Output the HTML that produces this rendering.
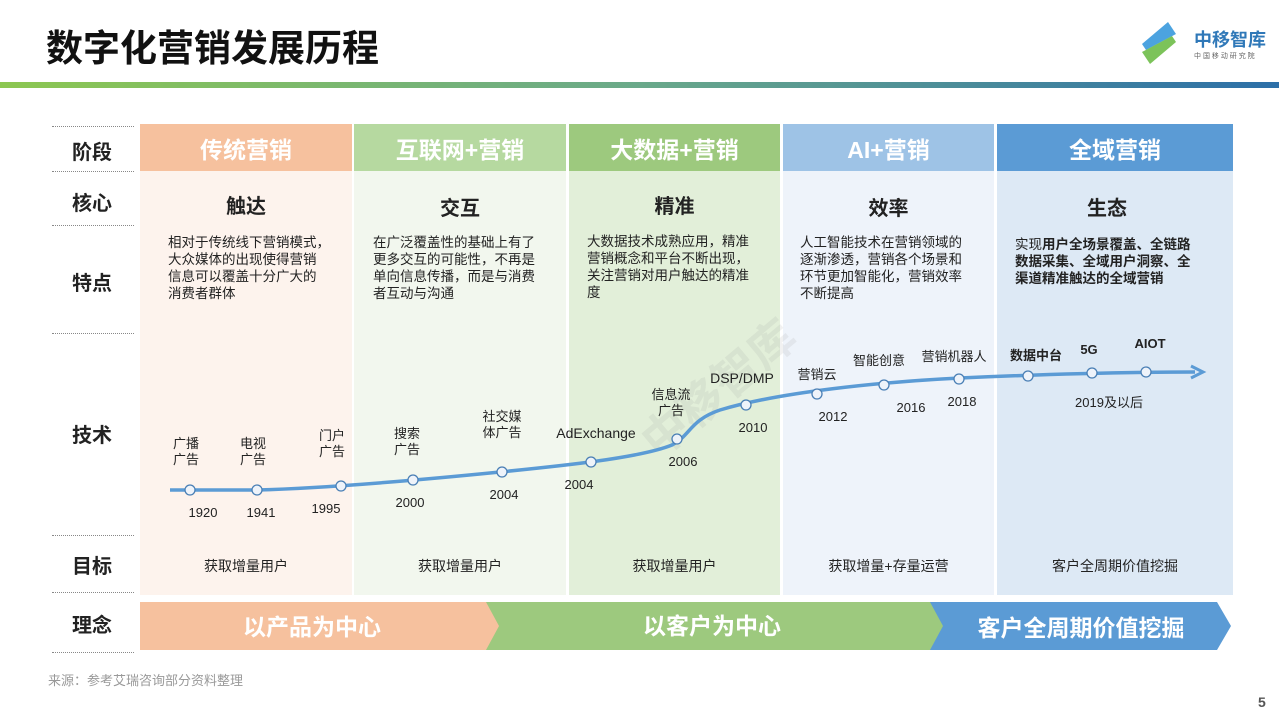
<!DOCTYPE html>
<html><head><meta charset="utf-8">
<style>
*{margin:0;padding:0;box-sizing:border-box}
body{width:1279px;height:719px;position:relative;background:#fff;font-family:"Liberation Sans","Noto Sans CJK SC",sans-serif;overflow:hidden;color:#222}
.a{position:absolute}
.hd{position:absolute;top:124px;height:47px;color:#fff;font-weight:bold;font-size:23px;display:flex;align-items:center;justify-content:center}
.col{position:absolute;top:171px;height:424px}
.rl{position:absolute;left:48px;width:88px;text-align:center;font-weight:bold;font-size:20px}
.dl{position:absolute;left:52px;width:82px;border-top:1px dotted #888}
.core{position:absolute;top:190px;font-size:20px;font-weight:bold;text-align:center}
.ft{position:absolute;top:234px;font-size:13.5px;line-height:17px;white-space:nowrap}
.goal{position:absolute;top:556px;font-size:14px;text-align:center}
</style></head><body>
<div class="a" style="left:46px;top:18px;font-size:37px;font-weight:bold;color:#111">数字化营销发展历程</div>
<div class="a" style="left:1138px;top:20px;width:130px;height:45px">
<svg width="50" height="45" class="a" style="left:0;top:0"><path d="M30 2 L38 14 L8 30 L4 24Z" fill="#4ca3e0"/><path d="M12 44 L4 32 L34 16 L38 22Z" fill="#7cc35a"/></svg>
<div class="a" style="left:56px;top:6px;font-size:18px;font-weight:bold;color:#2f78b8;white-space:nowrap">中移智库</div>
<div class="a" style="left:56px;top:31px;font-size:7px;color:#666;white-space:nowrap">中 国 移 动 研 究 院</div>
</div>
<div class="a" style="left:0;top:82px;width:1279px;height:6px;background:linear-gradient(90deg,#8cc751,#6aa98a 50%,#2c6fa8)"></div>

<div class="col" style="left:140px;width:212px;background:#fdf3ed"></div>
<div class="col" style="left:354px;width:212px;background:#f2f7ee"></div>
<div class="col" style="left:569px;width:211px;background:#e2efd9"></div>
<div class="col" style="left:783px;width:211px;background:#eef3fa"></div>
<div class="col" style="left:997px;width:236px;background:#dde9f5"></div>

<div class="hd" style="left:140px;width:212px;background:#f6c19e">传统营销</div>
<div class="hd" style="left:354px;width:212px;background:#b6d9a0">互联网+营销</div>
<div class="hd" style="left:569px;width:211px;background:#9dc97e">大数据+营销</div>
<div class="hd" style="left:783px;width:211px;background:#9ec3e6">AI+营销</div>
<div class="hd" style="left:997px;width:236px;background:#5b9bd5">全域营销</div>

<div class="dl" style="top:126px"></div>
<div class="dl" style="top:171px"></div>
<div class="dl" style="top:225px"></div>
<div class="dl" style="top:333px"></div>
<div class="dl" style="top:535px"></div>
<div class="dl" style="top:592px"></div>
<div class="dl" style="top:652px"></div>

<div class="rl" style="top:136px">阶段</div>
<div class="rl" style="top:187px">核心</div>
<div class="rl" style="top:267px">特点</div>
<div class="rl" style="top:419px">技术</div>
<div class="rl" style="top:550px">目标</div>
<div class="rl" style="top:609px">理念</div>

<div class="core" style="left:140px;width:212px">触达</div>
<div class="core" style="left:354px;width:212px;top:192px">交互</div>
<div class="core" style="left:569px;width:211px">精准</div>
<div class="core" style="left:783px;width:211px;top:192px">效率</div>
<div class="core" style="left:997px;width:220px;top:192px">生态</div>

<div class="ft" style="left:168px">相对于传统线下营销模式，<br>大众媒体的出现使得营销<br>信息可以覆盖十分广大的<br>消费者群体</div>
<div class="ft" style="left:373px">在广泛覆盖性的基础上有了<br>更多交互的可能性，不再是<br>单向信息传播，而是与消费<br>者互动与沟通</div>
<div class="ft" style="left:587px;top:233px">大数据技术成熟应用，精准<br>营销概念和平台不断出现，<br>关注营销对用户触达的精准<br>度</div>
<div class="ft" style="left:800px">人工智能技术在营销领域的<br>逐渐渗透，营销各个场景和<br>环节更加智能化，营销效率<br>不断提高</div>
<div class="ft" style="left:1015px;top:236px;font-weight:bold"><span style="font-weight:normal">实现</span>用户全场景覆盖、全链路<br>数据采集、全域用户洞察、全<br>渠道精准触达的全域营销</div>

<div class="a" style="left:625px;top:420px;font-size:46px;font-weight:bold;color:rgba(150,150,150,.13);transform:rotate(-40deg);transform-origin:left top;white-space:nowrap">中移智库</div>

<svg class="a" style="left:0;top:0" width="1279" height="719" id="tl"></svg>

<div class="goal" style="left:140px;width:212px">获取增量用户</div>
<div class="goal" style="left:354px;width:212px">获取增量用户</div>
<div class="goal" style="left:569px;width:211px">获取增量用户</div>
<div class="goal" style="left:783px;width:211px">获取增量+存量运营</div>
<div class="goal" style="left:997px;width:236px">客户全周期价值挖掘</div>

<svg class="a" style="left:0;top:0" width="1279" height="719">
<polygon points="140,602 494,602 507,626 494,650 140,650" fill="#f6c19e"/>
<polygon points="486,602 932,602 946,626 932,650 486,650 499,626" fill="#9dc97e"/>
<polygon points="930,602 1217,602 1231,626 1217,650 930,650 943,626" fill="#5b9bd5"/>
<text x="312" y="635" font-size="23" font-weight="bold" fill="#fff" text-anchor="middle">以产品为中心</text>
<text x="712" y="634" font-size="23" font-weight="bold" fill="#fff" text-anchor="middle">以客户为中心</text>
<text x="1081" y="636" font-size="23" font-weight="bold" fill="#fff" text-anchor="middle">客户全周期价值挖掘</text>
</svg>

<div class="a" style="left:48px;top:670px;font-size:13px;color:#999">来源：参考艾瑞咨询部分资料整理</div>
<div class="a" style="left:1258px;top:694px;font-size:14px;font-weight:bold;color:#555">5</div>

<script>
const techLabels=["广播\n广告","电视\n广告","门户\n广告","搜索\n广告","社交媒\n体广告","AdExchange","信息流\n广告","DSP/DMP","营销云","智能创意","营销机器人","数据中台","5G","AIOT"];
const techYears=["1920","1941","1995","2000","2004","2004","2006","2010","2012","2016","2018","","",""];
const nodeX=[190,257,341,413,502,591,677,746,817,884,959,1028,1092,1146];
const nodeY=[490,490,486,480,472,462,439,405,394,385,379,376,373,372];
const labelDx=[-4,-4,-9,-6,0,5,-6,-4,0,-5,-5,8,-3,4];
const labelDy=[-26,-26,-30,-26,-35,-24,-24,-22,-15,-20,-18,-16,-19,-24];
const yearDx=[13,4,-15,-3,2,-12,6,7,16,27,3,0,0,0];
const NS="http://www.w3.org/2000/svg";
const svg=document.getElementById('tl');
const path=document.createElementNS(NS,'path');


path.setAttribute('d','M170,490 L257,490 C330,488 420,480 500,472 C560,466 640,458 672,445 C690,436 690,420 720,410 C780,392 880,382 960,378 C1050,374 1130,372 1195,372');
path.setAttribute('fill','none');path.setAttribute('stroke','#5b9bd5');path.setAttribute('stroke-width','3.5');
svg.appendChild(path);
const ar=document.createElementNS(NS,'path');


ar.setAttribute('d','M1191,366 L1203,372 L1191,378');ar.setAttribute('fill','none');ar.setAttribute('stroke','#5b9bd5');ar.setAttribute('stroke-width','3');
svg.appendChild(ar);
techLabels.forEach((t,i)=>{
  const c=document.createElementNS(NS,'circle');
  
  
  c.setAttribute('cx',nodeX[i]);c.setAttribute('cy',nodeY[i]);c.setAttribute('r',5);
  c.setAttribute('fill','#eef3fa');c.setAttribute('stroke','#4a7fb5');c.setAttribute('stroke-width','1.3');
  svg.appendChild(c);
  const lines=t.split('\n');
  const bold=i>=11;
  lines.forEach((l,k)=>{
    const tx=document.createElementNS(NS,'text');
    
    
    tx.setAttribute('x',nodeX[i]+labelDx[i]);
    tx.setAttribute('y',nodeY[i]+labelDy[i]-(lines.length-1-k)*16);
    tx.setAttribute('font-size',i==5||i==7?14:13);
    if(bold)tx.setAttribute('font-weight','bold');
    tx.setAttribute('text-anchor','middle');tx.setAttribute('fill','#222');
    tx.textContent=l;svg.appendChild(tx);
  });
  if(techYears[i]){
    const y=document.createElementNS(NS,'text');
    
    
    y.setAttribute('x',nodeX[i]+yearDx[i]);
    y.setAttribute('y',nodeY[i]+27);
    y.setAttribute('font-size',13);y.setAttribute('text-anchor','middle');y.setAttribute('fill','#222');
    y.textContent=techYears[i];svg.appendChild(y);
  }
});
const ly=document.createElementNS(NS,'text');


ly.setAttribute('x',1109);ly.setAttribute('y',407);ly.setAttribute('font-size',13);ly.setAttribute('text-anchor','middle');ly.setAttribute('fill','#222');
ly.textContent='2019及以后';svg.appendChild(ly);
</script>
</body></html>
